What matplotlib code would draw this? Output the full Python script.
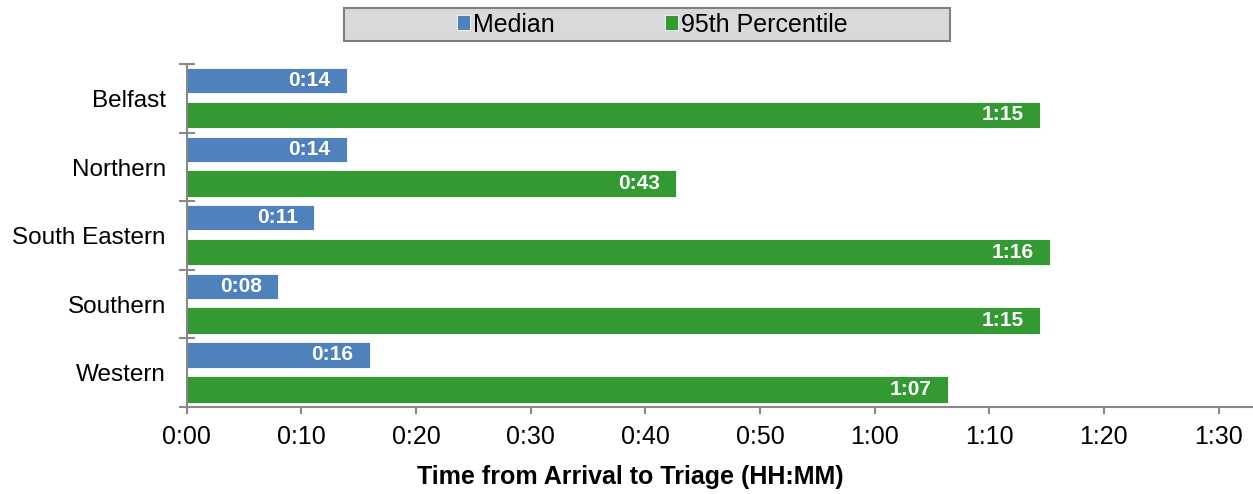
import matplotlib.pyplot as plt
import numpy as np
from matplotlib.patches import Rectangle

plt.rcParams['font.family'] = ['Liberation Sans', 'DejaVu Sans']

regions = ['Belfast', 'Northern', 'South Eastern', 'Southern', 'Western']
median = [13.95, 13.95, 11.1, 8.0, 15.95]
pct95 = [74.4, 42.7, 75.3, 74.4, 66.4]
median_lbl = ['0:14', '0:14', '0:11', '0:08', '0:16']
pct95_lbl = ['1:15', '0:43', '1:16', '1:15', '1:07']
xticks = [0, 10, 20, 30, 40, 50, 60, 70, 80, 90]
xtick_lbl = ['0:00', '0:10', '0:20', '0:30', '0:40', '0:50', '1:00', '1:10', '1:20', '1:30']

blue = '#4f81bd'
green = '#339933'

fig = plt.figure(figsize=(12.53, 4.94), dpi=100)
ax = fig.add_axes([0.149, 0.176, 0.85, 0.694])

y = np.arange(len(regions))
h = 0.37
b1 = ax.barh(y - 0.26, median, height=h, color=blue, edgecolor='white', linewidth=0.6, label='Median')
b2 = ax.barh(y + 0.24, pct95, height=h + 0.02, color=green, edgecolor='white', linewidth=0.6, label='95th Percentile')

# value labels inside the bar ends
for bar, lbl in zip(b1, median_lbl):
    ax.text(bar.get_width() - 1.4, bar.get_y() + bar.get_height() / 2, lbl,
            ha='right', va='center', color='white', fontweight='bold', fontsize=15)
for bar, lbl in zip(b2, pct95_lbl):
    ax.text(bar.get_width() - 1.4, bar.get_y() + bar.get_height() / 2, lbl,
            ha='right', va='center', color='white', fontweight='bold', fontsize=15)

ax.set_ylim(len(regions) - 0.5, -0.5)
ax.set_xlim(0, 92.9)

ax.set_yticks(np.arange(-0.5, len(regions), 1))
ax.set_yticklabels([])
ax.set_yticks(y, minor=True)
ax.set_yticklabels(regions, minor=True, fontsize=17.5)
ax.tick_params(axis='y', which='minor', length=0, pad=15)
ax.tick_params(axis='y', which='major', direction='inout', length=11, color='#888888', width=1.5)

ax.set_xticks(xticks)
ax.set_xticklabels(xtick_lbl, fontsize=18)
ax.tick_params(axis='x', direction='out', length=5, color='#888888', width=1.5, pad=8)
fig.text(630 / 1253, 1 - 477 / 494, 'Time from Arrival to Triage (HH:MM)',
         fontsize=18, fontweight='bold', ha='center', va='center')

for s in ['top', 'right']:
    ax.spines[s].set_visible(False)
for s in ['left', 'bottom']:
    ax.spines[s].set_color('#888888')
    ax.spines[s].set_linewidth(1.5)

# legend box
fig.patches.append(Rectangle((344 / 1253, 1 - 41 / 494), 606 / 1253, 33 / 494,
                             transform=fig.transFigure, facecolor='#d9d9d9',
                             edgecolor='#808080', linewidth=1.5, zorder=0))
fig.legend(handles=[b1, b2], loc='center', bbox_to_anchor=(652 / 1253, 1 - 24.5 / 494),
           ncol=2, frameon=False, fontsize=18, handlelength=0.52, handleheight=0.52,
           handletextpad=0.12, columnspacing=4.4)

plt.savefig('out.png', dpi=100)
